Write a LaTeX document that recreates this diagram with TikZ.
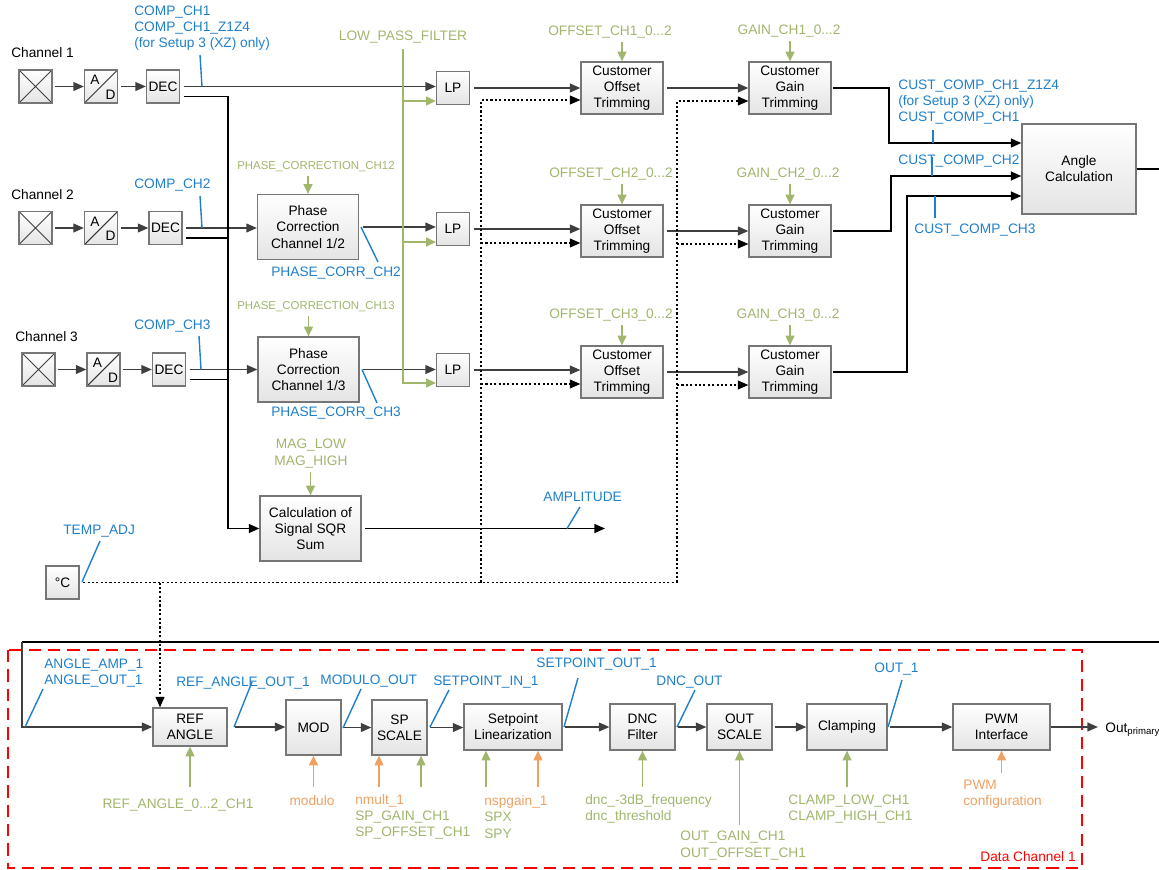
\documentclass[tikz,border=0pt]{standalone}
\usepackage{fontspec}
\setmainfont{Liberation Sans}
\usepackage{xcolor}
\usepackage{tikz}
\usetikzlibrary{arrows.meta}
\definecolor{wire}{HTML}{3F3F3F}
\definecolor{boxline}{HTML}{767676}
\definecolor{boxbot}{HTML}{E4E4E4}
\definecolor{sig}{HTML}{1F7FCB}
\definecolor{par}{HTML}{A0B66C}
\definecolor{opt}{HTML}{F0A060}
\definecolor{frame}{HTML}{FF0000}
\newcommand\lblfont{\fontsize{7.8}{9.2}\selectfont}
\newcommand\smlfont{\fontsize{6.5}{8}\selectfont}
\tikzset{
  blk/.style={draw=boxline, line width=0.7pt, top color=white, bottom color=boxbot, inner sep=0pt, align=center, font=\lblfont},
  sq/.style={blk, minimum width=0.66cm, minimum height=0.66cm},
  trimbox/.style={blk, minimum width=1.64cm, minimum height=1.04cm},
  phbox/.style={blk, minimum width=2.02cm, minimum height=1.3cm},
  chbox/.style={blk, minimum height=0.92cm},
  sens/.style={sq, path picture={
    \draw[black!75, line width=0.5pt] (path picture bounding box.south west) -- (path picture bounding box.north east)
      (path picture bounding box.north west) -- (path picture bounding box.south east);}},
  adc/.style={sq, path picture={
    \draw[black!80, line width=0.6pt] (path picture bounding box.south west) -- (path picture bounding box.north east);
    \node[font=\lblfont, inner sep=0pt] at ([xshift=-0.12cm, yshift=0.13cm]path picture bounding box.center) {A};
    \node[font=\lblfont, inner sep=0pt] at ([xshift=0.19cm, yshift=-0.16cm]path picture bounding box.center) {D};}},
  wirearr/.style={draw=wire, line width=0.9pt, -{Triangle[length=6pt,width=5pt]}},
  bus/.style={draw=black, line width=1.1pt},
  busarr/.style={bus, -{Triangle[length=6pt,width=5pt]}},
  dotl/.style={draw=black, line width=0.8pt, dash pattern=on 1.2pt off 1.3pt},
  dotarr/.style={dotl, -{Triangle[length=6pt,width=5pt]}},
  parl/.style={draw=par, line width=0.9pt},
  pararr/.style={parl, -{Triangle[length=5.5pt,width=5pt]}},
  optarr/.style={draw=opt, line width=0.9pt, -{Triangle[length=5.5pt,width=5pt]}},
  tick/.style={draw=sig, line width=0.8pt},
  lab/.style={inner sep=0pt, font=\lblfont, align=left},
  labs/.style={lab, text=sig},
  labp/.style={lab, text=par},
  labo/.style={lab, text=opt},
}

\begin{document}
\begin{tikzpicture}[x=0.02cm, y=-0.02cm]
  \useasboundingbox (0,0) rectangle (1159,869);

  % data channel frame
  \draw[frame, line width=0.8pt, dash pattern=on 7pt off 4pt] (8,650) rectangle (1082,868);
  \node[lab, text=frame, anchor=east] (ldc) at (1076,857) {Data Channel 1};

  % sensor channels
  \node[lab, anchor=west] (lch1) at (11,53) {Channel 1};
  \node[lab, anchor=west] (lch2) at (11,195) {Channel 2};
  \node[lab, anchor=west] (lch3) at (15,337) {Channel 3};

  \node[sens] (sen1) at (35.5,86.5) {};
  \node[adc]  (ad1)  at (101,86.5) {};
  \node[sq]   (dec1) at (163,86.5) {DEC};
  \node[sens] (sen2) at (35.5,228) {};
  \node[adc]  (ad2)  at (101,228) {};
  \node[sq]   (dec2) at (165.5,228) {DEC};
  \node[sens] (sen3) at (38.5,369.5) {};
  \node[adc]  (ad3)  at (103.5,369.5) {};
  \node[sq]   (dec3) at (169,369.5) {DEC};

  \draw[wirearr, shorten <=1.5pt] (sen1.east) -- (ad1.west);
  \draw[wirearr, shorten <=1.5pt] (ad1.east) -- (dec1.west);
  \draw[wirearr, shorten <=1.5pt] (sen2.east) -- (ad2.west);
  \draw[wirearr, shorten <=1.5pt] (ad2.east) -- (dec2.west);
  \draw[wirearr, shorten <=1.5pt] (sen3.east) -- (ad3.west);
  \draw[wirearr, shorten <=1.5pt] (ad3.east) -- (dec3.west);

  % phase, low pass, trimming
  \node[phbox] (phs2) at (308,227) {Phase\\Correction\\Channel 1/2};
  \node[phbox] (phs3) at (308.5,369.5) {Phase\\Correction\\Channel 1/3};
  \node[sq] (lp1) at (453,88) {LP};
  \node[sq] (lp2) at (453,229) {LP};
  \node[sq] (lp3) at (453,370) {LP};
  \node[trimbox] (off1) at (622,88) {Customer\\Offset\\Trimming};
  \node[trimbox] (off2) at (622,231) {Customer\\Offset\\Trimming};
  \node[trimbox] (off3) at (622,372) {Customer\\Offset\\Trimming};
  \node[trimbox] (gain1) at (790,88) {Customer\\Gain\\Trimming};
  \node[trimbox] (gain2) at (790,231) {Customer\\Gain\\Trimming};
  \node[trimbox] (gain3) at (790,372) {Customer\\Gain\\Trimming};
  \node[blk, minimum width=2.28cm, minimum height=1.8cm] (ang) at (1079,169) {Angle\\Calculation};
  \node[phbox] (sqr) at (310.5,528.5) {Calculation of\\Signal SQR\\Sum};
  \node[sq] (degc) at (62.5,582.5) {°C};

  \draw[wirearr, shorten <=2pt] (dec1.east) -- (dec1.east -| lp1.west);
  \draw[wirearr, shorten <=2pt] (dec2.east) -- (dec2.east -| phs2.west);
  \draw[wirearr, shorten <=2pt] (dec3.east) -- (dec3.east -| phs3.west);
  \coordinate (busc) at (228,528.5);
  \draw[busarr, shorten <=2pt] ([yshift=-0.2cm]dec1.east) -| (busc) -- (sqr.west);
  \draw[bus, shorten <=2pt] ([yshift=-0.2cm]dec2.east) -- ([yshift=-0.2cm]dec2.east -| busc);
  \draw[bus, shorten <=2pt] ([yshift=-0.2cm]dec3.east) -- ([yshift=-0.2cm]dec3.east -| busc);

  \draw[wirearr, shorten <=2pt] (phs2.east) -- (phs2.east -| lp2.west);
  \draw[wirearr, shorten <=2pt] (phs3.east) -- (phs3.east -| lp3.west);
  \draw[wirearr, shorten <=2pt] (lp1.east) -- (lp1.east -| off1.west);
  \draw[wirearr, shorten <=2pt] (lp2.east) -- (lp2.east -| off2.west);
  \draw[wirearr, shorten <=2pt] (lp3.east) -- (lp3.east -| off3.west);
  \draw[wirearr, shorten <=2pt] (off1.east) -- (off1.east -| gain1.west);
  \draw[wirearr, shorten <=2pt] (off2.east) -- (off2.east -| gain2.west);
  \draw[wirearr, shorten <=2pt] (off3.east) -- (off3.east -| gain3.west);

  \draw[busarr, shorten <=1pt] (gain1.east) -- ++(57,0) |- ([yshift=0.52cm]ang.west);
  \draw[busarr, shorten <=1pt] (gain2.east) -- ++(59,0) |- ([yshift=-0.14cm]ang.west);
  \draw[busarr, shorten <=1pt] (gain3.east) -- ++(75,0) |- ([yshift=-0.54cm]ang.west);
  \coordinate (redge) at (1159,642);
  \draw[bus] (ang.east) -- (ang.east -| redge);

  \coordinate (ampend) at (605,528.5);
  \draw[busarr, shorten <=2pt] (sqr.east) -- (ampend);

  % parameters, top part
  \node[labp] (llpf) at (403,37) {LOW\_PASS\_FILTER};
  \draw[pararr, shorten <=3pt] (llpf.south) |- ([yshift=-0.26cm]lp3.west);
  \draw[pararr] ([yshift=-0.26cm]lp1.west -| llpf.south) -- ([yshift=-0.26cm]lp1.west);
  \draw[pararr] ([yshift=-0.26cm]lp2.west -| llpf.south) -- ([yshift=-0.26cm]lp2.west);

  \node[labp] (loff1) at (610,32) {OFFSET\_CH1\_0...2};
  \node[labp] (loff2) at (611,174) {OFFSET\_CH2\_0...2};
  \node[labp] (loff3) at (611,315) {OFFSET\_CH3\_0...2};
  \node[labp] (lgain1) at (789,31) {GAIN\_CH1\_0...2};
  \node[labp] (lgain2) at (788,174) {GAIN\_CH2\_0...2};
  \node[labp] (lgain3) at (788,315) {GAIN\_CH3\_0...2};
  \draw[pararr, shorten <=2pt] (loff1.south -| off1.north) -- (off1.north);
  \draw[pararr, shorten <=2pt] (loff2.south -| off2.north) -- (off2.north);
  \draw[pararr, shorten <=2pt] (loff3.south -| off3.north) -- (off3.north);
  \draw[pararr, shorten <=2pt] (lgain1.south -| gain1.north) -- (gain1.north);
  \draw[pararr, shorten <=2pt] (lgain2.south -| gain2.north) -- (gain2.north);
  \draw[pararr, shorten <=2pt] (lgain3.south -| gain3.north) -- (gain3.north);

  \node[labp, font=\smlfont] (lphc2) at (316,167) {PHASE\_CORRECTION\_CH12};
  \node[labp, font=\smlfont] (lphc3) at (316,307) {PHASE\_CORRECTION\_CH13};
  \draw[pararr, shorten <=2pt] (lphc2.south -| phs2.north) -- (phs2.north);
  \draw[pararr, shorten <=2pt] (lphc3.south -| phs3.north) -- (phs3.north);
  \node[labp, align=center] (lmag) at (311,453.5) {MAG\_LOW\\MAG\_HIGH};
  \draw[pararr, shorten <=2pt] (lmag.south -| sqr.north) -- (sqr.north);

  % dotted temperature path
  \coordinate (dv1) at (481,582.5);
  \coordinate (dv2) at (677,582.5);
  \draw[dotl, shorten <=2pt] (degc.east) -- (dv2);
  \draw[dotarr] (dv1) |- ([yshift=-0.24cm]off1.west);
  \draw[dotarr] ([yshift=-0.24cm]off2.west -| dv1) -- ([yshift=-0.24cm]off2.west);
  \draw[dotarr] ([yshift=-0.24cm]off3.west -| dv1) -- ([yshift=-0.24cm]off3.west);
  \draw[dotarr] (dv2) |- ([yshift=-0.26cm]gain1.west);
  \draw[dotarr] ([yshift=-0.26cm]gain2.west -| dv2) -- ([yshift=-0.26cm]gain2.west);
  \draw[dotarr] ([yshift=-0.26cm]gain3.west -| dv2) -- ([yshift=-0.26cm]gain3.west);

  % signal names, top part
  \node[labs, anchor=west] (lcomp1) at (134,28) {COMP\_CH1\\COMP\_CH1\_Z1Z4\\(for Setup 3 (XZ) only)};
  \node[labs, anchor=west] (lcomp2) at (134,185) {COMP\_CH2};
  \node[labs, anchor=west] (lcomp3) at (134,326) {COMP\_CH3};
  \draw[tick] (202,86.5) -- (200,55);
  \draw[tick] (202,228) -- (200,196);
  \draw[tick] (201,369.5) -- (199,336);
  \node[labs, anchor=west] (lpc2) at (271,273) {PHASE\_CORR\_CH2};
  \node[labs, anchor=west] (lpc3) at (271,413) {PHASE\_CORR\_CH3};
  \draw[tick] (361,227) -- (378,262);
  \draw[tick] (362,369.5) -- (377,403);
  \node[labs, anchor=west] (lcc1) at (898,102) {CUST\_COMP\_CH1\_Z1Z4\\(for Setup 3 (XZ) only)\\CUST\_COMP\_CH1};
  \node[labs, anchor=west] (lcc2) at (898,161) {CUST\_COMP\_CH2};
  \node[labs, anchor=west] (lcc3) at (914,230) {CUST\_COMP\_CH3};
  \draw[tick] (933,143) -- (933,130);
  \draw[tick] (932,176) -- (932,157);
  \draw[tick] (935,196) -- (935,218);
  \node[labs, anchor=west] (lamp) at (543,497) {AMPLITUDE};
  \draw[tick] (567,528.5) -- (580,507);
  \node[labs, anchor=west] (ltmp) at (63,531) {TEMP\_ADJ};
  \draw[tick] (82,582) -- (100,541);

  % data channel 1
  \node[chbox, minimum width=1.48cm, minimum height=0.76cm] (refang) at (190,727) {REF\\ANGLE};
  \node[blk, minimum width=1.1cm, minimum height=1.1cm] (mod) at (313.5,727.5) {MOD};
  \node[blk, minimum width=1.1cm, minimum height=1.1cm] (spsc) at (399.5,727.5) {SP\\SCALE};
  \node[chbox, minimum width=1.96cm] (splin) at (513,727) {Setpoint\\Linearization};
  \node[chbox, minimum width=1.3cm] (dnc) at (642.5,727) {DNC\\Filter};
  \node[chbox, minimum width=1.3cm] (outsc) at (739.5,727) {OUT\\SCALE};
  \node[chbox, minimum width=1.6cm] (clamp) at (847,727) {Clamping};
  \node[chbox, minimum width=1.94cm] (pwm) at (1001.5,727) {PWM\\Interface};
  \node[lab, anchor=west] (outp) at (1105,730) {Out\textsubscript{primary}};

  \coordinate (tin) at ([xshift=-0.6cm]refang.north);
  \coordinate (fb) at (22,642);
  \draw[bus] (redge) -- (fb);
  \draw[wirearr, line width=1pt] (fb) |- (refang.west);
  \draw[dotarr] (tin |- degc.east) -- (tin);
  \draw[wirearr, shorten <=4pt] (refang.east) -- (refang.east -| mod.west);
  \draw[wirearr, shorten <=1.5pt] (mod.east) -- (mod.east -| spsc.west);
  \draw[wirearr, shorten <=1.5pt] (spsc.east) -- (spsc.east -| splin.west);
  \draw[wirearr, shorten <=1.5pt] (splin.east) -- (dnc.west);
  \draw[wirearr, shorten <=1.5pt] (dnc.east) -- (outsc.west);
  \draw[wirearr, shorten <=1.5pt] (outsc.east) -- (clamp.west);
  \draw[wirearr, shorten <=1.5pt] (clamp.east) -- (pwm.west);
  \draw[wirearr, shorten >=4pt] (pwm.east) -- (pwm.east -| outp.west);

  \node[labs, anchor=west] (lango) at (44,673) {ANGLE\_AMP\_1\\ANGLE\_OUT\_1};
  \node[labs, anchor=west] (lrefo) at (176,683) {REF\_ANGLE\_OUT\_1};
  \node[labs, anchor=west] (lmodo) at (320,681) {MODULO\_OUT};
  \node[labs, anchor=west] (lspin) at (433,682) {SETPOINT\_IN\_1};
  \node[labs, anchor=west] (lspout) at (536,664) {SETPOINT\_OUT\_1};
  \node[labs, anchor=west] (ldnco) at (656,682) {DNC\_OUT};
  \node[labs, anchor=west] (lout1) at (874,669) {OUT\_1};
  \draw[tick] (25,727) -- (43,689);
  \draw[tick] (234,727) -- (252,682);
  \draw[tick] (343,728) -- (361,689);
  \draw[tick] (430,727) -- (449,690);
  \draw[tick] (564,727) -- (578,678);
  \draw[tick] (677,727) -- (695,690);
  \draw[tick] (888,727) -- (902,680);

  \node[labp] (lref) at (178,805) {REF\_ANGLE\_0...2\_CH1};
  \node[labo] (lmodp) at (312,801) {modulo};
  \node[labp, anchor=west] (lspp) at (355,817) {{\color{opt}nmult\_1}\\SP\_GAIN\_CH1\\SP\_OFFSET\_CH1};
  \node[labp, anchor=west] (lslp) at (484,817) {{\color{opt}nspgain\_1}\\SPX\\SPY};
  \node[labp, anchor=west] (ldncp) at (585,809) {dnc\_-3dB\_frequency\\dnc\_threshold};
  \node[labp, anchor=west] (loutp) at (680,845.5) {OUT\_GAIN\_CH1\\OUT\_OFFSET\_CH1};
  \node[labp, anchor=west] (lclp) at (788,809) {CLAMP\_LOW\_CH1\\CLAMP\_HIGH\_CH1};
  \node[labo, anchor=west] (lpwmp) at (963,794) {PWM\\configuration};

  \coordinate (prow) at (0,787);
  \coordinate (prow2) at (0,825);
  \coordinate (prow3) at (0,773);
  \draw[pararr] (refang.south |- prow) -- (refang.south);
  \draw[optarr] (mod.south |- prow) -- (mod.south);
  \draw[optarr] ([xshift=-0.41cm]spsc.south |- prow) -- ([xshift=-0.41cm]spsc.south);
  \draw[pararr] ([xshift=0.43cm]spsc.south |- prow) -- ([xshift=0.43cm]spsc.south);
  \draw[pararr] ([xshift=-0.54cm]splin.south |- prow) -- ([xshift=-0.54cm]splin.south);
  \draw[optarr] ([xshift=0.5cm]splin.south |- prow) -- ([xshift=0.5cm]splin.south);
  \draw[pararr] (dnc.south |- prow) -- (dnc.south);
  \draw[pararr] (outsc.south |- prow2) -- (outsc.south);
  \draw[pararr] (clamp.south |- prow) -- (clamp.south);
  \draw[optarr] (pwm.south |- prow3) -- (pwm.south);
\end{tikzpicture}
\end{document}
